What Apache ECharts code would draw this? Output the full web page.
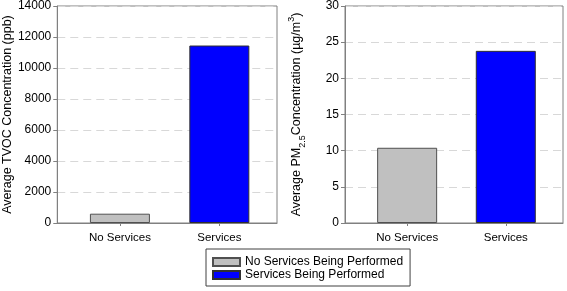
<!DOCTYPE html>
<html>
<head>
<meta charset="utf-8">
<script src="https://cdn.jsdelivr.net/npm/echarts@6/dist/echarts.min.js"></script>
<style>
html, body { margin: 0; padding: 0; background: #fff; }
#chart { width: 567px; height: 291px; }
</style>
</head>
<body>
<div id="chart"></div>
<script>
const categories = ['No Services', 'Services'];
const seriesNames = ['No Services Being Performed', 'Services Being Performed'];
const tvocValues = [600, 11450];
const pmValues = [10.4, 23.8];
const tvocTicks = { min: 0, max: 14000, interval: 2000 };
const pmTicks = { min: 0, max: 30, interval: 5 };

const chart = echarts.init(document.getElementById('chart'));
const font = 'Liberation Sans, Arial, sans-serif';
const axisGray = '#808080';
const catIdx = categories.map(function (c, i) { return i; });

function yAxis(idx, ticks, name) {
    return {
        type: 'value', gridIndex: idx,
        min: ticks.min, max: ticks.max, interval: ticks.interval,
        name: name, nameLocation: 'middle', nameGap: 38, nameRotate: 90,
        nameTextStyle: {
            fontFamily: font, fontSize: 12.5, color: '#000',
            rich: {
                sub: { fontFamily: font, fontSize: 9, verticalAlign: 'bottom', padding: [9, 0, 0, 0], color: '#000' },
                sup: { fontFamily: font, fontSize: 9, verticalAlign: 'top', padding: [0, 0, 11, 0], color: '#000' }
            }
        },
        axisLine: { show: true, onZero: false, lineStyle: { color: axisGray } },
        axisTick: { show: true, length: 4, lineStyle: { color: axisGray } },
        axisLabel: {
            fontFamily: font, fontSize: 12, color: '#000', margin: 6,
            formatter: function (v) { return String(v); }
        },
        splitLine: { show: true, lineStyle: { color: '#d8d8d8', type: [8, 5] } }
    };
}

// value axis so the two bars sit where the reference puts them
function xAxis(idx) {
    return {
        type: 'value', gridIndex: idx, min: -0.63, max: 1.58,
        axisLine: { show: true, onZero: false, lineStyle: { color: axisGray } },
        axisTick: { show: true, length: 3, customValues: catIdx, lineStyle: { color: axisGray } },
        axisLabel: {
            fontFamily: font, fontSize: 11.5, color: '#000', margin: 9,
            customValues: catIdx,
            formatter: function (v) { return categories[Math.round(v)]; }
        },
        splitLine: { show: false }
    };
}

function bars(idx, values) {
    const styles = [
        { color: '#c0c0c0', borderColor: '#505050', borderWidth: 1 },
        { color: '#0000ff', borderColor: '#303030', borderWidth: 1 }
    ];
    return seriesNames.map(function (n, i) {
        return {
            name: n, type: 'bar', xAxisIndex: idx, yAxisIndex: idx,
            barWidth: 60, barGap: '-100%',
            itemStyle: styles[i],
            data: [[catIdx[i], values[i]]]
        };
    });
}

const option = {
    animation: false,
    grid: [
        { left: 55, top: 6, width: 222, height: 217, show: true, borderColor: axisGray, borderWidth: 1 },
        { left: 345, top: 6, width: 218, height: 217, show: true, borderColor: axisGray, borderWidth: 1 }
    ],
    xAxis: [xAxis(0), xAxis(1)],
    yAxis: [
        yAxis(0, tvocTicks, 'Average TVOC Concentration (ppb)'),
        yAxis(1, pmTicks, 'Average PM{sub|2.5}Concentration (µg/m{sup|3})')
    ],
    legend: {
        data: seriesNames,
        orient: 'vertical',
        left: 206, top: 249,
        icon: 'rect',
        itemWidth: 27, itemHeight: 8, itemGap: 1,
        padding: [7, 7, 5, 6],
        borderColor: '#404040', borderWidth: 1,
        textStyle: { fontFamily: font, fontSize: 12, color: '#000' }
    },
    series: bars(0, tvocValues).concat(bars(1, pmValues))
};
chart.setOption(option);
</script>
</body>
</html>
